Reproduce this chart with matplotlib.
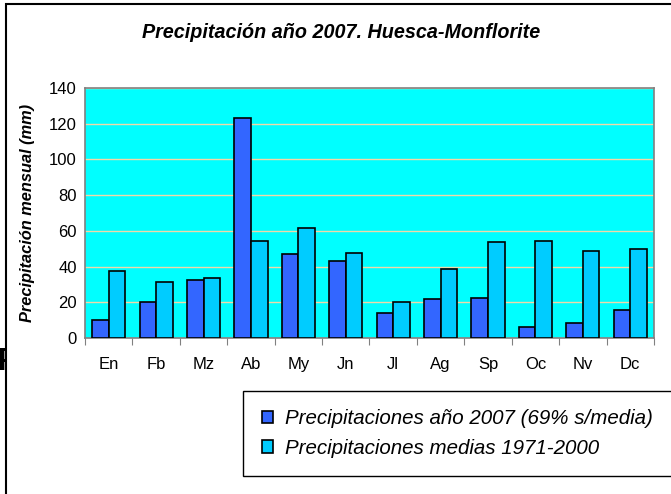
import matplotlib.pyplot as plt
import numpy as np
from matplotlib.patches import Rectangle
from matplotlib.transforms import Bbox

plt.rcParams['font.family'] = ['Liberation Sans', 'DejaVu Sans']

meses = ["En", "Fb", "Mz", "Ab", "My", "Jn", "Jl", "Ag", "Sp", "Oc", "Nv", "Dc"]
prec_2007 = [10, 20, 32.6, 123.4, 46.8, 42.9, 13.8, 21.6, 22.4, 6.2, 8.4, 15.5]
prec_media = [37.3, 31.1, 33.4, 54.4, 61.7, 47.5, 20.1, 38.8, 53.7, 54.4, 49.0, 49.8]

W, H = 671, 494
fig = plt.figure(figsize=(W / 100, H / 100), dpi=100)
ax = fig.add_axes([85 / W, 1 - 338 / H, (654 - 85) / W, (338 - 88) / H])

x = np.arange(len(meses))
w = 0.35
ax.bar(x - w / 2, prec_2007, w, color="#3366ff", edgecolor="black", linewidth=1.2,
       label="Precipitaciones año 2007 (69% s/media)", zorder=3)
ax.bar(x + w / 2, prec_media, w, color="#00ccff", edgecolor="black", linewidth=1.2,
       label="Precipitaciones medias 1971-2000", zorder=3)

ax.set_facecolor("#00ffff")
ax.set_xlim(-0.5, len(meses) - 0.5)
ax.set_ylim(0, 140)
ax.set_yticks(range(0, 141, 20))
ax.yaxis.grid(True, color="#f2d8a8", linewidth=1, zorder=1)
ax.set_axisbelow(True)

# ticks at the category boundaries, labels at the centres
ax.set_xticks(np.arange(-0.5, len(meses), 1))
ax.set_xticklabels([])
ax.set_xticks(x, minor=True)
ax.set_xticklabels(meses, minor=True, fontsize=12)
ax.tick_params(axis="x", which="major", length=5, direction="out", color="#808080")
ax.tick_params(axis="x", which="minor", length=0, pad=14)
ax.tick_params(axis="y", length=0, labelsize=12, pad=6)

for s in ax.spines.values():
    s.set_color("#808080")
    s.set_linewidth(1.2)

ax.set_ylabel("Precipitación mensual (mm)", fontsize=11.8, fontweight="bold",
              fontstyle="italic")
ax.yaxis.set_label_coords(-50 / (654 - 85), 0.5)

fig.text(341 / W, 1 - 32 / H, "Precipitación año 2007. Huesca-Monflorite",
         ha="center", va="center", fontsize=14.2, fontweight="bold", fontstyle="italic")

# letter at the left edge, only its left part shows (hidden behind the chart area)
p = fig.text(-2 / W, 1 - 370 / H, "P", ha="left", va="baseline", fontsize=22, fontweight="bold")
p.set_clip_box(Bbox.from_extents(0, 0, 7, H))
p.set_clip_on(True)

leg = fig.legend(loc="upper left", bbox_to_anchor=(243 / W, 1 - 391 / H),
                 fancybox=False, framealpha=1, edgecolor="black",
                 prop={"size": 14.8, "style": "italic"},
                 handlelength=0.55, handleheight=0.55, handletextpad=0.6,
                 labelspacing=0.5, borderpad=0.9, borderaxespad=0)
leg.get_frame().set_linewidth(1)

# outer chart border (runs past the right/bottom edge)
fig.patches.append(Rectangle((6 / W, -0.1), 1.2, 1 - 4 / H + 0.1, transform=fig.transFigure,
                             fill=False, edgecolor="black", linewidth=1.5, clip_on=False))

fig.savefig("out.png", dpi=100)
